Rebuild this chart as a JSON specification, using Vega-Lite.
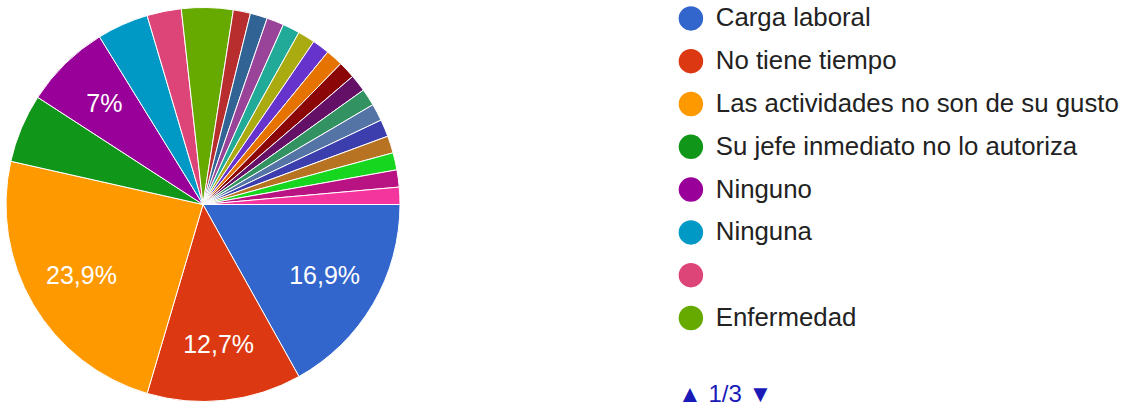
{
  "$schema": "https://vega.github.io/schema/vega-lite/v6.json",
  "width": 406,
  "height": 409,
  "padding": 0,
  "autosize": {"type": "pad"},
  "background": "white",
  "config": {"view": {"stroke": null}, "font": "Liberation Sans"},
  "data": {
    "values": [
      {"idx": 1, "name": "Carga laboral", "value": 12, "label": "16,9%"},
      {"idx": 2, "name": "No tiene tiempo", "value": 9, "label": "12,7%"},
      {"idx": 3, "name": "Las actividades no son de su gusto", "value": 17, "label": "23,9%"},
      {"idx": 4, "name": "Su jefe inmediato no lo autoriza", "value": 4, "label": ""},
      {"idx": 5, "name": "Ninguno", "value": 5, "label": "7%"},
      {"idx": 6, "name": "Ninguna", "value": 3, "label": ""},
      {"idx": 7, "name": "", "value": 2, "label": ""},
      {"idx": 8, "name": "Enfermedad", "value": 3, "label": ""},
      {"idx": 9, "name": "Otro motivo 1", "value": 1, "label": ""},
      {"idx": 10, "name": "Otro motivo 2", "value": 1, "label": ""},
      {"idx": 11, "name": "Otro motivo 3", "value": 1, "label": ""},
      {"idx": 12, "name": "Otro motivo 4", "value": 1, "label": ""},
      {"idx": 13, "name": "Otro motivo 5", "value": 1, "label": ""},
      {"idx": 14, "name": "Otro motivo 6", "value": 1, "label": ""},
      {"idx": 15, "name": "Otro motivo 7", "value": 1, "label": ""},
      {"idx": 16, "name": "Otro motivo 8", "value": 1, "label": ""},
      {"idx": 17, "name": "Otro motivo 9", "value": 1, "label": ""},
      {"idx": 18, "name": "Otro motivo 10", "value": 1, "label": ""},
      {"idx": 19, "name": "Otro motivo 11", "value": 1, "label": ""},
      {"idx": 20, "name": "Otro motivo 12", "value": 1, "label": ""},
      {"idx": 21, "name": "Otro motivo 13", "value": 1, "label": ""},
      {"idx": 22, "name": "Otro motivo 14", "value": 1, "label": ""},
      {"idx": 23, "name": "Otro motivo 15", "value": 1, "label": ""},
      {"idx": 24, "name": "Otro motivo 16", "value": 1, "label": ""}
    ]
  },
  "encoding": {
    "theta": {"field": "value", "type": "quantitative", "stack": true, "scale": {"range": [1.5708, 7.854]}},
    "order": {"field": "idx", "type": "quantitative"}
  },
  "layer": [
    {
      "mark": {"type": "arc", "outerRadius": 197, "stroke": "white", "strokeWidth": 1},
      "encoding": {
        "color": {
          "field": "name",
          "type": "nominal",
          "scale": {
            "domain": ["Carga laboral", "No tiene tiempo", "Las actividades no son de su gusto", "Su jefe inmediato no lo autoriza", "Ninguno", "Ninguna", "", "Enfermedad", "Otro motivo 1", "Otro motivo 2", "Otro motivo 3", "Otro motivo 4", "Otro motivo 5", "Otro motivo 6", "Otro motivo 7", "Otro motivo 8", "Otro motivo 9", "Otro motivo 10", "Otro motivo 11", "Otro motivo 12", "Otro motivo 13", "Otro motivo 14", "Otro motivo 15", "Otro motivo 16"],
            "range": ["#3366cc", "#dc3912", "#ff9900", "#109618", "#990099", "#0099c6", "#dd4477", "#66aa00", "#b82e2e", "#316395", "#994499", "#22aa99", "#aaaa11", "#6633cc", "#e67300", "#8b0707", "#651067", "#329262", "#5574a6", "#3b3eac", "#b77322", "#16d620", "#b91383", "#f4359e"]
          },
          "legend": {
            "orient": "none",
            "legendX": 678,
            "legendY": 5.5,
            "values": ["Carga laboral", "No tiene tiempo", "Las actividades no son de su gusto", "Su jefe inmediato no lo autoriza", "Ninguno", "Ninguna", "", "Enfermedad"],
            "title": "▲ 1/3 ▼",
            "titleOrient": "bottom",
            "titleAnchor": "start",
            "titleFontSize": 24,
            "titleFontWeight": "normal",
            "titleColor": "#1a1ab8",
            "titlePadding": 52,
            "symbolType": "circle",
            "symbolSize": 600,
            "symbolStrokeWidth": 0,
            "symbolOpacity": 1,
            "labelFontSize": 25.8,
            "labelColor": "#222222",
            "labelOffset": 12,
            "labelLimit": 600,
            "rowPadding": 15.8,
            "padding": 0
          }
        }
      }
    },
    {
      "mark": {"type": "text", "radius": 141, "fontSize": 25, "fill": "white"},
      "encoding": {"text": {"field": "label", "type": "nominal"}}
    }
  ]
}
